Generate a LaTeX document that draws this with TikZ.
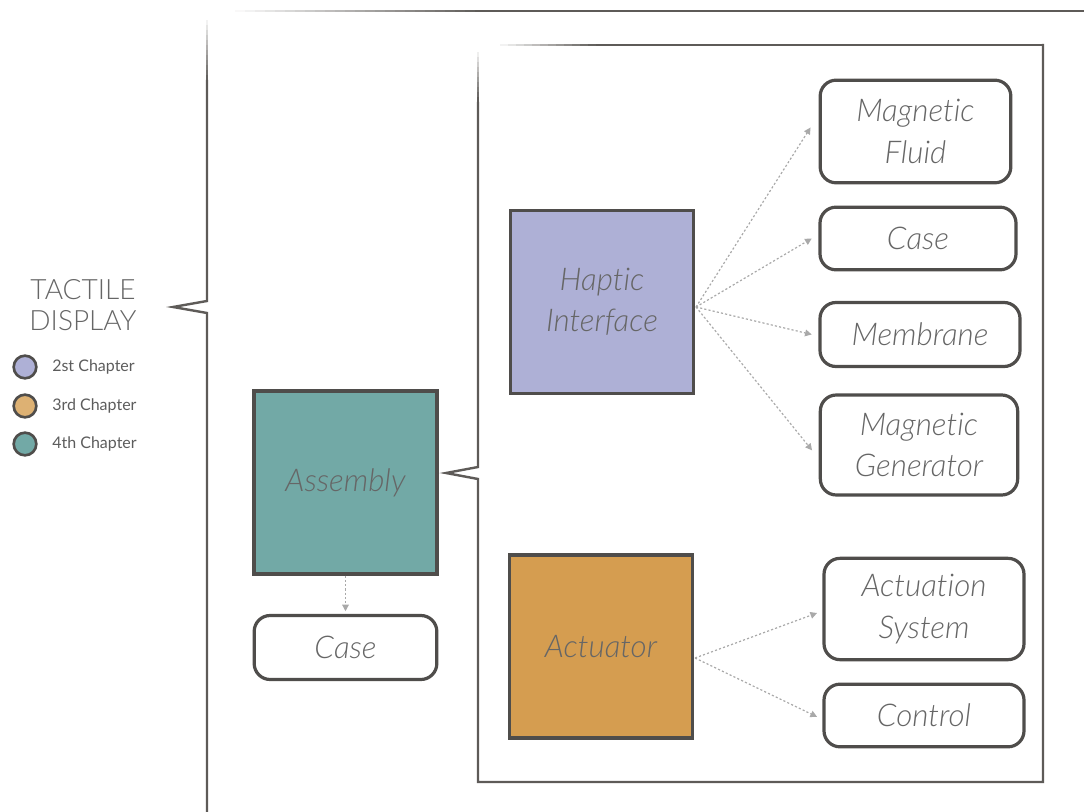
\documentclass[tikz,border=0pt]{standalone}
\usepackage{fontspec}
\setmainfont{Lato}[UprightFont=* Light, ItalicFont=* Light Italic, Ligatures=NoCommon]
\newfontfamily\legfont{Lato}
\usetikzlibrary{arrows.meta}
\definecolor{ink}{HTML}{666666}
\definecolor{frame}{HTML}{5E5B58}
\definecolor{edge}{HTML}{4F4D4B}
\definecolor{haptic}{HTML}{AEB0D6}
\definecolor{assem}{HTML}{72A9A6}
\definecolor{actu}{HTML}{D59D50}
\definecolor{dots}{HTML}{A9A9A9}
\tikzset{
  chapbox/.style={draw=edge, line width=2.6pt, minimum width=137pt, minimum height=137pt,
    inner sep=0pt, align=center, font=\itshape\fontsize{23.5}{31}\selectfont, text=ink},
  partbox/.style={draw=edge, line width=2.4pt, rounded corners=12pt, fill=white,
    inner sep=0pt, align=center, font=\itshape\fontsize{23.5}{31}\selectfont, text=ink},
  link/.style={draw=dots, line width=0.9pt, dash pattern=on 1.6pt off 1.6pt,
    -{Triangle[length=5pt,width=5pt]}},
  legdot/.style={circle, draw=edge, line width=2pt, minimum size=17pt, inner sep=0pt},
  legtext/.style={anchor=west, text=ink!90!black, font=\legfont\fontsize{12}{14}\selectfont, inner sep=0pt},
  bracket/.style={draw=frame, line width=1.8pt, line join=miter},
  rule/.style={line width=1.5pt, line cap=butt},
}
\begin{document}
\begin{tikzpicture}[x=0.75pt,y=-0.75pt]
\useasboundingbox (0,0) rectangle (1084,812);

% outer bracket: top rule fading in from the left, spine with notch
\foreach \i in {0,...,23} {
  \pgfmathsetmacro{\pc}{4*(\i+1)}
  \draw[rule, draw=frame!\pc!white] (235+10*\i,11) -- (245.5+10*\i,11);
}
\draw[rule, draw=frame] (475,11) -- (1084,11);
\foreach \i in {0,...,11} {
  \pgfmathsetmacro{\pc}{8*(\i+1)}
  \draw[bracket, draw=frame!\pc!white, line cap=butt] (207,20+5*\i) -- (207,25.5+5*\i);
}
\draw[bracket] (207,80) -- (207,301) -- (173,307) -- (207,313) -- (207,812);

% inner frame
\foreach \i in {0,...,11} {
  \pgfmathsetmacro{\pc}{8*(\i+1)}
  \draw[rule, draw=frame!\pc!white] (500+8*\i,45) -- (508.5+8*\i,45);
}
\draw[rule, draw=frame] (596,45) -- (1043,45);
\foreach \i in {0,...,9} {
  \pgfmathsetmacro{\pc}{10*(\i+1)}
  \draw[bracket, draw=frame!\pc!white, line cap=butt] (478,52+5*\i) -- (478,57.5+5*\i);
}
\draw[bracket] (1043,44) -- (1043,782) -- (478,782) -- (478,479)
  -- (446,473) -- (478,467) -- (478,102);

% title and legend
\node[text=ink, align=center, font=\fontsize{21}{23}\selectfont] (title) at (83,305) {TACTILE\\DISPLAY};
\node[legdot, fill=haptic] (d2) at (25,367) {};
\node[legdot, fill=actu!80!white] (d3) at (25,406) {};
\node[legdot, fill=assem] (d4) at (25,444) {};
\node[legtext] (t2) at (52,367) {2st Chapter};
\node[legtext] (t3) at (52,406) {3rd Chapter};
\node[legtext] (t4) at (52,444) {4th Chapter};

% chapter blocks
\node[chapbox, fill=haptic] (hap) at (602,302) {Haptic\\Interface};
\node[chapbox, fill=assem] (asm) at (345.5,482.5) {Assembly};
\node[chapbox, fill=actu] (act) at (601,646.5) {Actuator};

% parts
\node[partbox, minimum width=137pt, minimum height=48pt] (case0) at (345.5,647.5) {Case};
\node[partbox, minimum width=143pt, minimum height=77pt] (mf) at (915.5,131.5) {Magnetic\\Fluid};
\node[partbox, minimum width=147pt, minimum height=47pt] (case1) at (918,238.5) {Case};
\node[partbox, minimum width=150pt, minimum height=48pt] (mem) at (920,334.5) {Membrane};
\node[partbox, minimum width=148pt, minimum height=75pt] (mg) at (919,445) {Magnetic\\Generator};
\node[partbox, minimum width=150pt, minimum height=76pt] (as) at (924,609) {Actuation\\System};
\node[partbox, minimum width=150pt, minimum height=47pt] (ctl) at (924,715.5) {Control};

% connectors
\coordinate (hapout) at (696,307);
\coordinate (actout) at (695,658);
\draw[link] (hapout) -- ([xshift=-6pt,yshift=3pt]mf.west);
\draw[link] (hapout) -- ([xshift=-5pt]case1.west);
\draw[link] (hapout) -- ([xshift=-5pt]mem.west);
\draw[link] (hapout) -- ([xshift=-5pt,yshift=-4pt]mg.west);
\draw[link] (actout) -- ([xshift=-4pt,yshift=-3pt]as.west);
\draw[link] (actout) -- ([xshift=-4pt,yshift=-1pt]ctl.west);
\draw[link] (asm.south) -- ([yshift=2pt]case0.north);
\end{tikzpicture}
\end{document}
